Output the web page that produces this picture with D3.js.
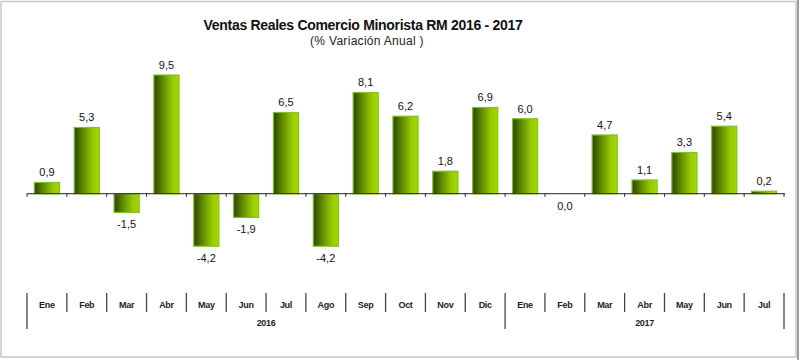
<!DOCTYPE html>
<html><head><meta charset="utf-8">
<script src="https://cdn.jsdelivr.net/npm/d3@7"></script>
<style>body{margin:0;background:#fff;font-family:Arial,"Liberation Sans",sans-serif;}</style>
</head><body><svg id="c" width="800" height="360"></svg>
<script>
const months = ["Ene","Feb","Mar","Abr","May","Jun","Jul","Ago","Sep","Oct","Nov","Dic","Ene","Feb","Mar","Abr","May","Jun","Jul"];
const years = ["2016","2017"];
const yearOf = [0,0,0,0,0,0,0,0,0,0,0,0,1,1,1,1,1,1,1];
const values = [0.9,5.3,-1.5,9.5,-4.2,-1.9,6.5,-4.2,8.1,6.2,1.8,6.9,6.0,0.0,4.7,1.1,3.3,5.4,0.2];
const valueLabels = ["0,9","5,3","-1,5","9,5","-4,2","-1,9","6,5","-4,2","8,1","6,2","1,8","6,9","6,0","0,0","4,7","1,1","3,3","5,4","0,2"];
const title = "Ventas Reales Comercio Minorista RM 2016 - 2017";
const subtitle = "(% Variación Anual )";

const svg = d3.select("#c");
const defs = svg.append("defs");
const g = defs.append("linearGradient").attr("id","bg").attr("x1","0").attr("x2","1").attr("y1","0").attr("y2","0");
g.append("stop").attr("offset","0").attr("stop-color","#2c4400");
g.append("stop").attr("offset","0.35").attr("stop-color","#5f8a00");
g.append("stop").attr("offset","0.75").attr("stop-color","#99cc00");
g.append("stop").attr("offset","1").attr("stop-color","#a6d40a");

// frame
svg.append("rect").attr("x",1).attr("y",1.5).attr("width",795).attr("height",355.5).attr("fill","none").attr("stroke","#c8c8c8").attr("stroke-width",1.5);
svg.append("line").attr("x1",798).attr("x2",798).attr("y1",0).attr("y2",360).attr("stroke","#9a9a9a").attr("stroke-width",2);

const idx = d3.range(months.length);
const x = d3.scaleBand().domain(idx).range([27,784]).paddingInner(0.37).paddingOuter(0.185);
const y = d3.scaleLinear().domain([-4.2,9.5]).range([246.2,75]);
const y0 = y(0);

// title
svg.append("text").attr("x",363).attr("y",30).attr("text-anchor","middle").attr("font-size",14).attr("font-weight","bold").attr("letter-spacing",-0.3).attr("fill","#111").text(title);
svg.append("text").attr("x",367).attr("y",45).attr("text-anchor","middle").attr("font-size",12).attr("letter-spacing",0.3).attr("fill","#222").text(subtitle);

// bars
svg.append("g").selectAll("rect").data(values).join("rect")
  .attr("x",(d,i)=>x(i)).attr("width",x.bandwidth())
  .attr("y",d=>Math.min(y(d),y0)).attr("height",d=>Math.abs(y(d)-y0))
  .attr("fill","url(#bg)").attr("stroke","#7cc22a").attr("stroke-width",1.2);

// zero axis
const bounds = d3.range(months.length+1).map(i=>27 + i*(757/19));
svg.append("line").attr("x1",27).attr("x2",785).attr("y1",y0).attr("y2",y0).attr("stroke","#222").attr("stroke-width",1);
svg.append("g").selectAll("line").data(bounds).join("line")
  .attr("x1",d=>d).attr("x2",d=>d).attr("y1",y0).attr("y2",y0+3).attr("stroke","#222");

// value labels
svg.append("g").selectAll("text").data(values).join("text")
  .attr("x",(d,i)=>x(i)+x.bandwidth()/2)
  .attr("y",d=> d>0 ? y(d)-6 : Math.max(y(d),y0)+16)
  .attr("text-anchor","middle").attr("font-size",11).attr("fill","#111")
  .text((d,i)=>valueLabels[i]);

// category axis
const sepTop = 293, sepBot = 312, ySepBot = 329;
svg.append("g").selectAll("line").data(bounds).join("line")
  .attr("x1",d=>d).attr("x2",d=>d).attr("y1",sepTop)
  .attr("y2",(d,i)=> (i===0||i===12||i===19) ? ySepBot : sepBot)
  .attr("stroke","#444").attr("stroke-width",1.3);
svg.append("g").selectAll("text").data(months).join("text")
  .attr("x",(d,i)=>x(i)+x.bandwidth()/2).attr("y",308)
  .attr("text-anchor","middle").attr("font-size",9).attr("font-weight","bold").attr("letter-spacing",-0.3).attr("fill","#222")
  .text(d=>d);
svg.append("g").selectAll("text").data(years).join("text")
  .attr("x",(d,i)=> i===0 ? (bounds[0]+bounds[12])/2 : (bounds[12]+bounds[19])/2).attr("y",326)
  .attr("text-anchor","middle").attr("font-size",9).attr("font-weight","bold").attr("letter-spacing",-0.3).attr("fill","#222")
  .text(d=>d);
</script></body></html>
